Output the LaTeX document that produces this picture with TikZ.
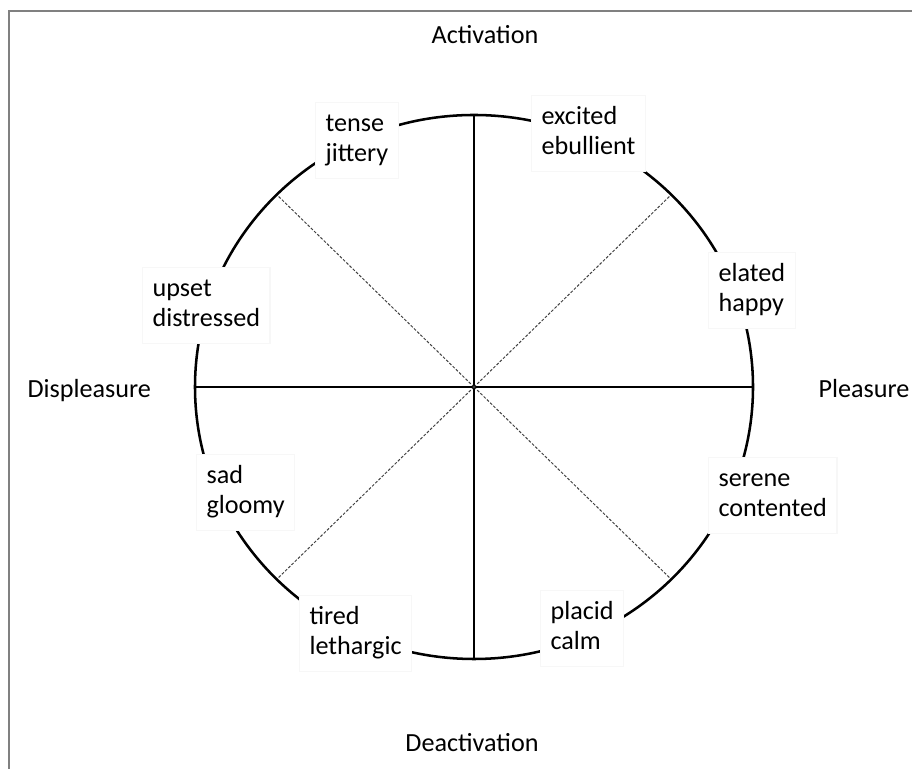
\documentclass[tikz,border=0pt]{standalone}
\usepackage{fontspec}
\setmainfont{Carlito}
\usepackage{tikz}
\newcommand{\twolines}[2]{\strut#1\\\strut#2}

\begin{document}
\begin{tikzpicture}[x=0.0125cm,y=-0.0125cm,
  axislbl/.style={font=\fontsize{9.3}{10.67}\selectfont, inner sep=0pt},
  mood/.style={font=\fontsize{9.3}{10.67}\selectfont, align=left, anchor=north west,
    fill=white, draw=black!3, inner xsep=0.125cm, inner ysep=0.1cm}]
\useasboundingbox (0,0) rectangle (912,769);
\draw[black!50, line width=0.55pt] (9,769) -- (9,11) -- (912,11);
\coordinate (ctr) at (474,387);
\coordinate (top) at (474,115);
\coordinate (bot) at (474,659);
\coordinate (lft) at (195,387);
\coordinate (rgt) at (753,387);
\draw[line width=0.45pt] (top) -- (bot);
\draw[line width=0.45pt] (lft) -- (rgt);
\foreach \a in {45,135,225,315}
{
    \coordinate (d\a) at ({474+279*cos(\a)},{387-272*sin(\a)});
    \draw[black!75, line width=0.35pt, dash pattern=on 1pt off 0.6pt] (ctr) -- (d\a);
}
\draw[line width=0.9pt] (ctr) ellipse [x radius=279, y radius=272];
\node[axislbl, anchor=base] (act) at (485,44) {Activation};
\node[axislbl, anchor=base] (deact) at (472,752) {Deactivation};
\node[axislbl, anchor=base west] (displ) at (27,398) {Displeasure};
\node[axislbl, anchor=base west] (pleas) at (818,398) {Pleasure};
\node[mood] (tense) at (315,102) {\twolines{tense}{jittery}};
\node[mood] (excited) at (531,95) {\twolines{excited}{ebullient}};
\node[mood] (elated) at (708,252) {\twolines{elated}{happy}};
\node[mood] (serene) at (708,457) {\twolines{serene}{contented}};
\node[mood] (placid) at (540,590) {\twolines{placid}{calm}};
\node[mood] (tired) at (299,595) {\twolines{tired}{lethargic}};
\node[mood] (sad) at (196,454) {\twolines{sad}{gloomy}};
\node[mood] (upset) at (142,267) {\twolines{upset}{distressed}};
\end{tikzpicture}
\end{document}
